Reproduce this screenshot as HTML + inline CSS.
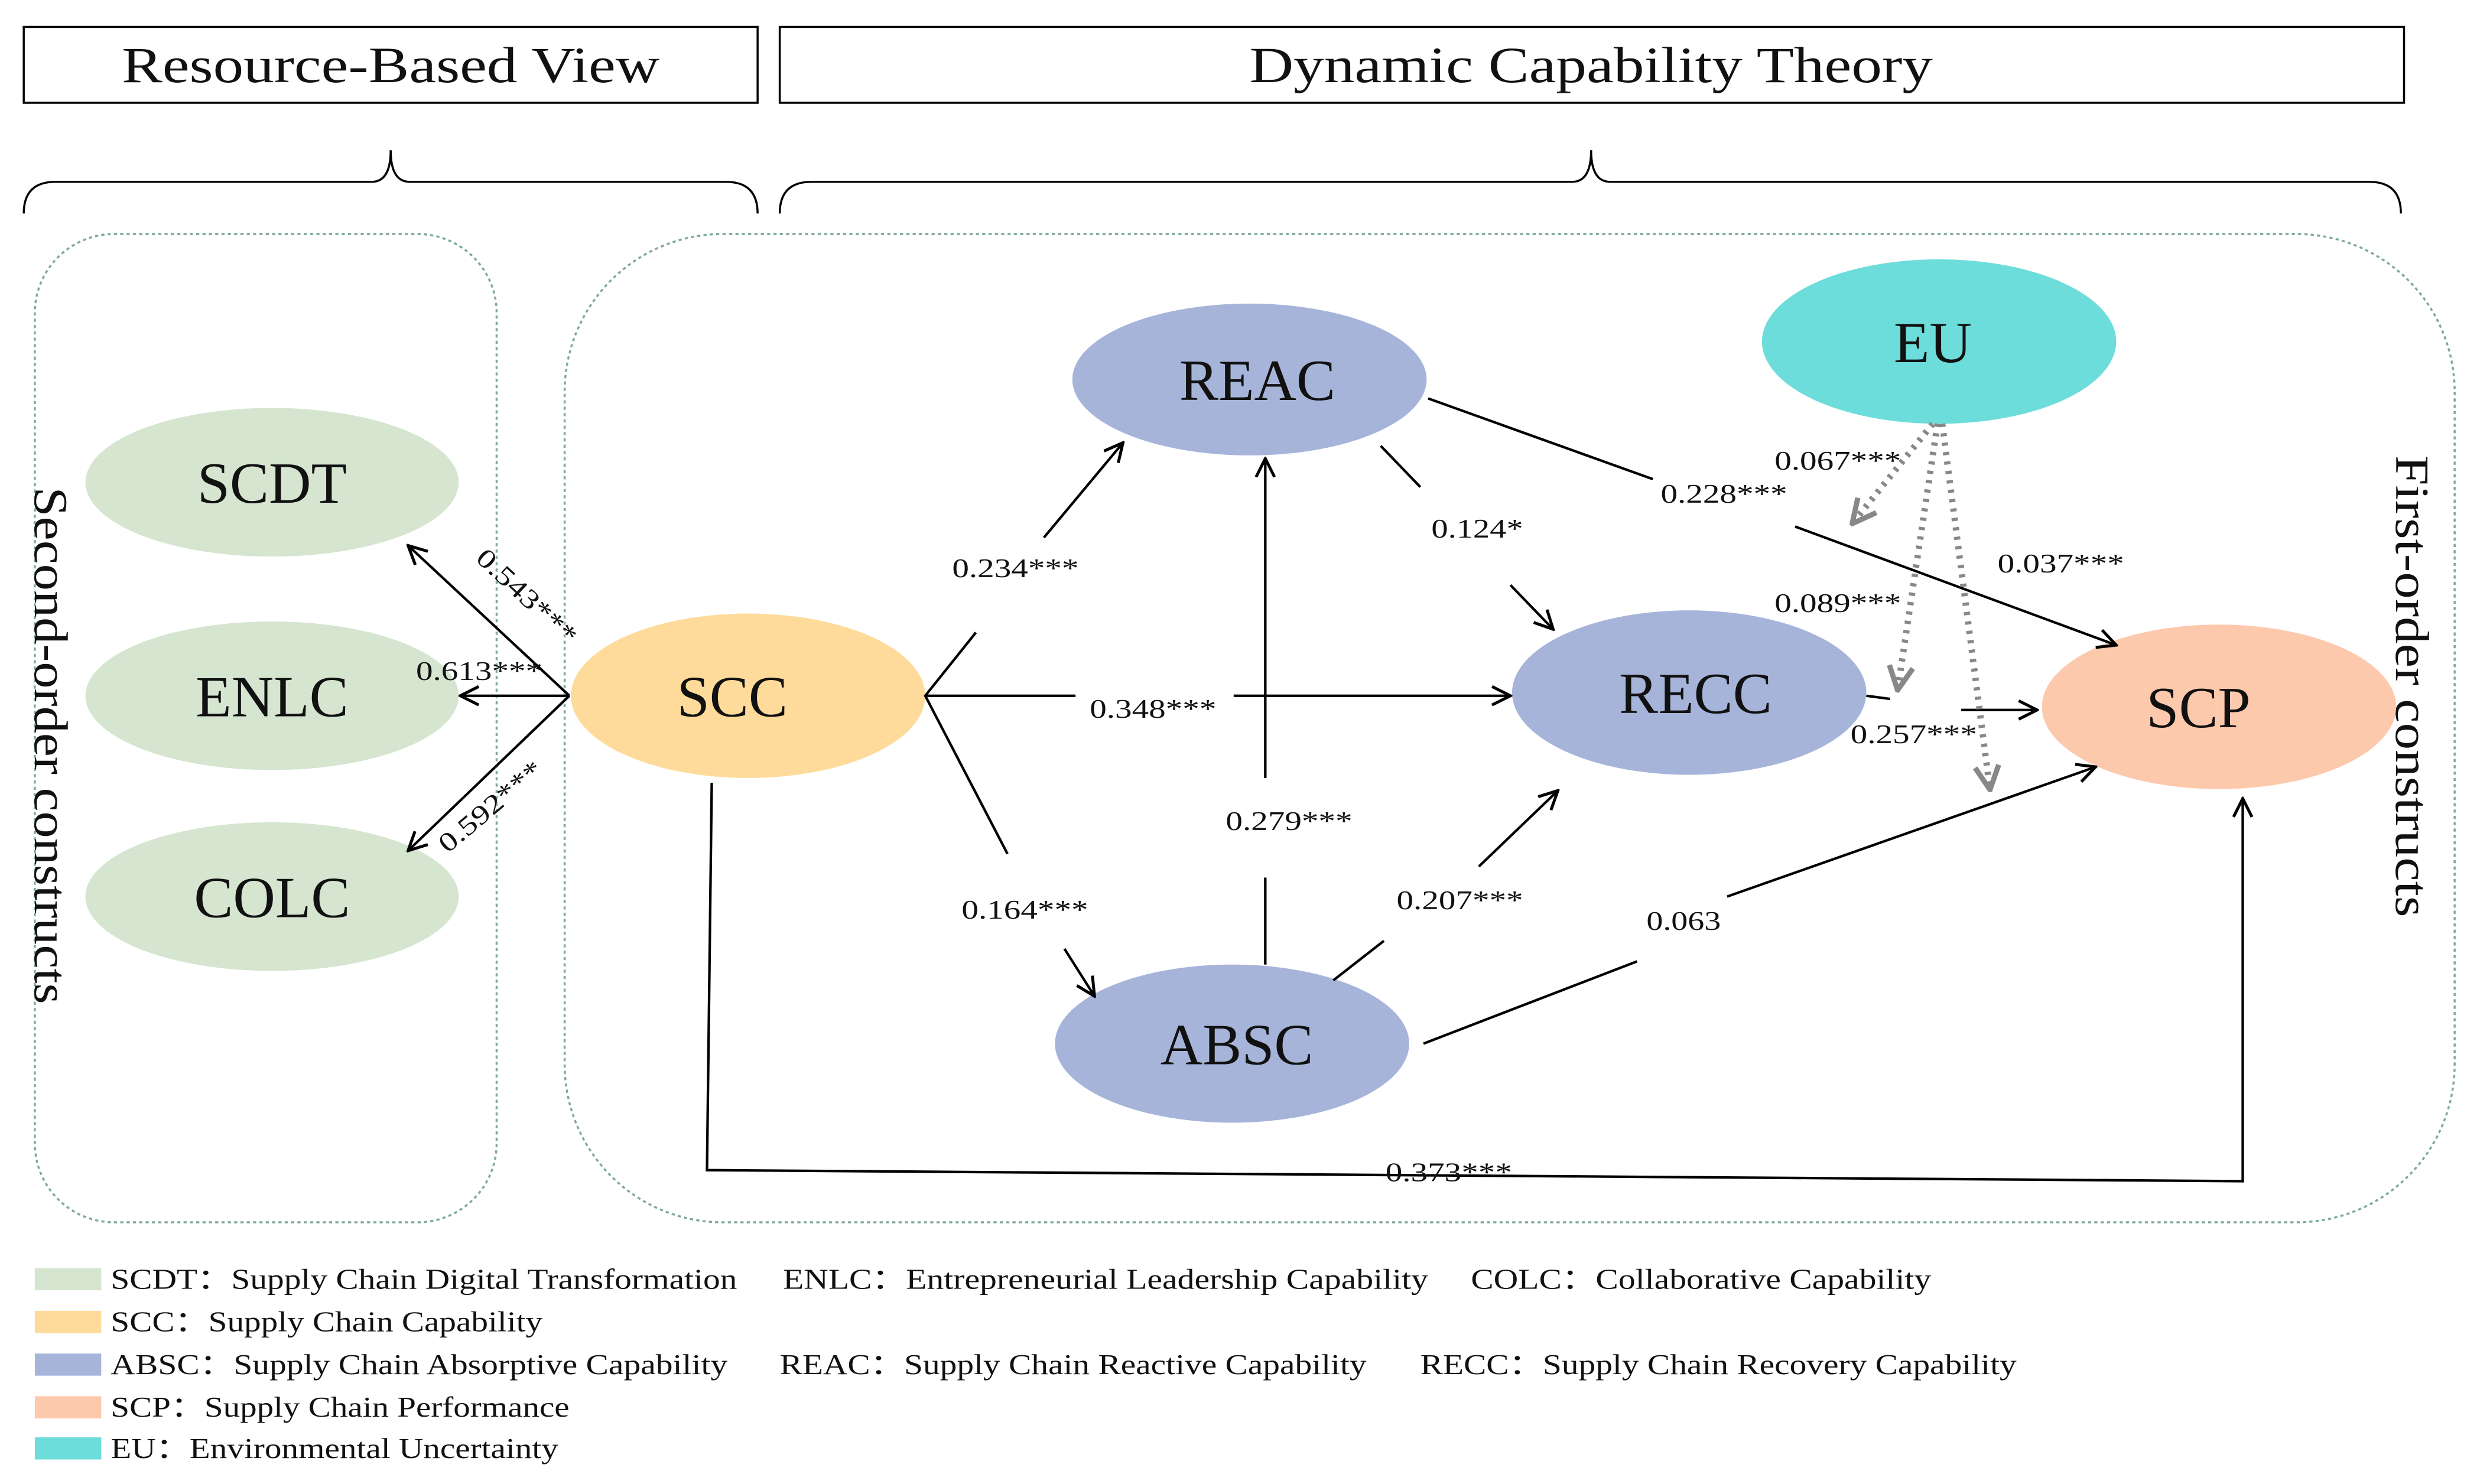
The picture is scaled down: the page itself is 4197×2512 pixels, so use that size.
<!DOCTYPE html>
<html><head><meta charset="utf-8"><style>
html,body{margin:0;padding:0;background:#fff;}
svg{display:block;}
text{font-family:"Liberation Serif",serif;fill:#111;}
</style></head><body>
<svg width="4197" height="2512" viewBox="0 0 1568 938.5" xmlns="http://www.w3.org/2000/svg">
<defs>
<marker id="a" viewBox="0 0 12 12" refX="11" refY="6" markerWidth="14" markerHeight="14" markerUnits="userSpaceOnUse" orient="auto"><path d="M1,1 L11,6 L1,11" fill="none" stroke="#000" stroke-width="1.6"/></marker>
<marker id="g" viewBox="0 0 12 12" refX="10" refY="6" markerWidth="18" markerHeight="18" markerUnits="userSpaceOnUse" orient="auto"><path d="M1,1 L11,6 L1,11" fill="none" stroke="#888" stroke-width="2.2"/></marker>
</defs>
<rect x="15" y="17" width="464" height="48" fill="none" stroke="#000" stroke-width="1.3"/>
<text x="77" y="52" font-size="32" textLength="340" lengthAdjust="spacingAndGlyphs">Resource-Based View</text>
<rect x="493" y="17" width="1027" height="48" fill="none" stroke="#000" stroke-width="1.3"/>
<text x="790" y="52" font-size="32" textLength="432" lengthAdjust="spacingAndGlyphs">Dynamic Capability Theory</text>
<path d="M15,135 Q15,115 35,115 L235,115 Q247,115 247,95 Q247,115 259,115 L459,115 Q479,115 479,135" fill="none" stroke="#000" stroke-width="1.3"/>
<path d="M493,135 Q493,115 513,115 L994,115 Q1006,115 1006,95 Q1006,115 1018,115 L1498,115 Q1518,115 1518,135" fill="none" stroke="#000" stroke-width="1.3"/>
<rect x="22" y="148" width="292" height="625" rx="50" fill="none" stroke="#7fa8a0" stroke-width="1.3" stroke-dasharray="2,2"/>
<rect x="357" y="148" width="1195" height="625" rx="100" fill="none" stroke="#7fa8a0" stroke-width="1.3" stroke-dasharray="2,2"/>
<text transform="translate(22,308) rotate(90)" font-size="30" textLength="327" lengthAdjust="spacingAndGlyphs">Second-order constructs</text>
<text transform="translate(1515,288) rotate(90)" font-size="30" textLength="292" lengthAdjust="spacingAndGlyphs">First-order constructs</text>
<g font-size="37" text-anchor="middle">
<ellipse cx="172" cy="305" rx="118" ry="47" fill="#d5e5d0"/><text x="172" y="318">SCDT</text>
<ellipse cx="172" cy="440" rx="118" ry="47" fill="#d5e5d0"/><text x="172" y="453">ENLC</text>
<ellipse cx="172" cy="567" rx="118" ry="47" fill="#d5e5d0"/><text x="172" y="580">COLC</text>
<ellipse cx="473" cy="440" rx="112" ry="52" fill="#fedb9a"/><text x="463" y="453">SCC</text>
<ellipse cx="790" cy="240" rx="112" ry="48" fill="#a7b4da"/><text x="795" y="253">REAC</text>
<ellipse cx="1068" cy="438" rx="112" ry="52" fill="#a7b4da"/><text x="1072" y="451">RECC</text>
<ellipse cx="779" cy="660" rx="112" ry="50" fill="#a7b4da"/><text x="782" y="673">ABSC</text>
<ellipse cx="1226" cy="216" rx="112" ry="52" fill="#6ddddb"/><text x="1222" y="229">EU</text>
<ellipse cx="1403" cy="447" rx="112" ry="52" fill="#fdc9ad"/><text x="1390" y="460">SCP</text>
</g>
<g stroke="#000" stroke-width="1.6" fill="none">
<line x1="360" y1="440" x2="258" y2="345" marker-end="url(#a)"/>
<line x1="360" y1="440" x2="291" y2="440" marker-end="url(#a)"/>
<line x1="360" y1="440" x2="258" y2="538" marker-end="url(#a)"/>
<polyline points="617,400 585,440 637,540"/>
<line x1="660" y1="340" x2="710" y2="280" marker-end="url(#a)"/>
<line x1="585" y1="440" x2="680" y2="440"/><line x1="780" y1="440" x2="955" y2="440" marker-end="url(#a)"/>
<line x1="673" y1="600" x2="692" y2="630" marker-end="url(#a)"/>
<line x1="800" y1="610" x2="800" y2="555"/><line x1="800" y1="492" x2="800" y2="290" marker-end="url(#a)"/>
<line x1="873" y1="282" x2="898" y2="308"/><line x1="955" y1="370" x2="982" y2="398" marker-end="url(#a)"/>
<line x1="903" y1="252" x2="1045" y2="303"/><line x1="1135" y1="333" x2="1338" y2="408" marker-end="url(#a)"/>
<line x1="843" y1="620" x2="875" y2="595"/><line x1="935" y1="548" x2="985" y2="500" marker-end="url(#a)"/>
<line x1="900" y1="660" x2="1035" y2="608"/><line x1="1092" y1="567" x2="1325" y2="485" marker-end="url(#a)"/>
<line x1="1180" y1="440" x2="1195" y2="442"/><line x1="1240" y1="449" x2="1288" y2="449" marker-end="url(#a)"/>
<polyline points="450,495 447,740 1418,747 1418,505" marker-end="url(#a)"/>
</g>
<g stroke="#888" stroke-width="4" fill="none" stroke-dasharray="2,4">
<line x1="1222" y1="268" x2="1172" y2="330" marker-end="url(#g)"/>
<line x1="1225" y1="268" x2="1200" y2="435" marker-end="url(#g)"/>
<line x1="1228" y1="268" x2="1258" y2="498" marker-end="url(#g)"/>
</g>
<g font-size="17" lengthAdjust="spacingAndGlyphs">
<text transform="translate(300,354) rotate(43)" textLength="80" lengthAdjust="spacingAndGlyphs">0.543***</text>
<text x="263" y="430" textLength="80" lengthAdjust="spacingAndGlyphs">0.613***</text>
<text transform="translate(283,540) rotate(-40)" textLength="80" lengthAdjust="spacingAndGlyphs">0.592***</text>
<text x="602" y="365" textLength="80" lengthAdjust="spacingAndGlyphs">0.234***</text>
<text x="689" y="454" textLength="80" lengthAdjust="spacingAndGlyphs">0.348***</text>
<text x="608" y="581" textLength="80" lengthAdjust="spacingAndGlyphs">0.164***</text>
<text x="775" y="525" textLength="80" lengthAdjust="spacingAndGlyphs">0.279***</text>
<text x="905" y="340" textLength="58" lengthAdjust="spacingAndGlyphs">0.124*</text>
<text x="1050" y="318" textLength="80" lengthAdjust="spacingAndGlyphs">0.228***</text>
<text x="883" y="575" textLength="80" lengthAdjust="spacingAndGlyphs">0.207***</text>
<text x="1041" y="588" textLength="47" lengthAdjust="spacingAndGlyphs">0.063</text>
<text x="1170" y="470" textLength="80" lengthAdjust="spacingAndGlyphs">0.257***</text>
<text x="876" y="747" textLength="80" lengthAdjust="spacingAndGlyphs">0.373***</text>
<text x="1122" y="297" textLength="80" lengthAdjust="spacingAndGlyphs">0.067***</text>
<text x="1122" y="387" textLength="80" lengthAdjust="spacingAndGlyphs">0.089***</text>
<text x="1263" y="362" textLength="80" lengthAdjust="spacingAndGlyphs">0.037***</text>
</g>
<g font-size="18">
<rect x="22" y="802" width="42" height="14" fill="#d5e5d0"/>
<text x="70" y="815" textLength="396" lengthAdjust="spacingAndGlyphs">SCDT：Supply Chain Digital Transformation</text>
<text x="495" y="815" textLength="408" lengthAdjust="spacingAndGlyphs">ENLC：Entrepreneurial Leadership Capability</text>
<text x="930" y="815" textLength="291" lengthAdjust="spacingAndGlyphs">COLC：Collaborative Capability</text>
<rect x="22" y="829" width="42" height="14" fill="#fedb9a"/>
<text x="70" y="842" textLength="273" lengthAdjust="spacingAndGlyphs">SCC：Supply Chain Capability</text>
<rect x="22" y="856" width="42" height="14" fill="#a7b4da"/>
<text x="70" y="869" textLength="390" lengthAdjust="spacingAndGlyphs">ABSC：Supply Chain Absorptive Capability</text>
<text x="493" y="869" textLength="371" lengthAdjust="spacingAndGlyphs">REAC：Supply Chain Reactive Capability</text>
<text x="898" y="869" textLength="377" lengthAdjust="spacingAndGlyphs">RECC：Supply Chain Recovery Capability</text>
<rect x="22" y="883" width="42" height="14" fill="#fdc9ad"/>
<text x="70" y="896" textLength="290" lengthAdjust="spacingAndGlyphs">SCP：Supply Chain Performance</text>
<rect x="22" y="909" width="42" height="14" fill="#6ddddb"/>
<text x="70" y="922" textLength="283" lengthAdjust="spacingAndGlyphs">EU：Environmental Uncertainty</text>
</g>
</svg>
</body></html>
